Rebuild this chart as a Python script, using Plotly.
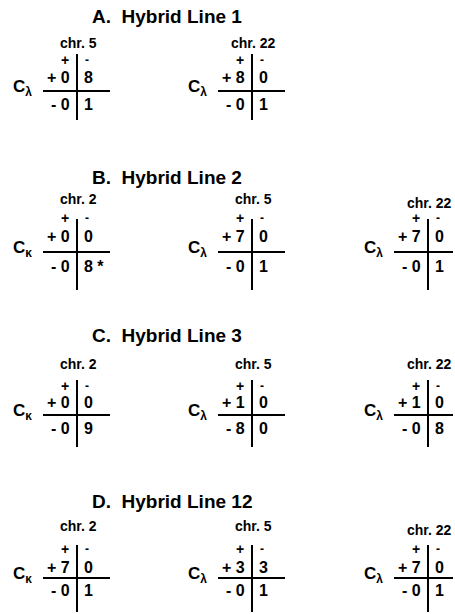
import plotly.graph_objects as go

# ---------------- data ----------------
panel_titles = ["A.\u00a0\u00a0Hybrid Line 1", "B.\u00a0\u00a0Hybrid Line 2",
                "C.\u00a0\u00a0Hybrid Line 3", "D.\u00a0\u00a0Hybrid Line 12"]
panel_chromosomes = [["chr. 5", "chr. 22"],
                     ["chr. 2", "chr. 5", "chr. 22"],
                     ["chr. 2", "chr. 5", "chr. 22"],
                     ["chr. 2", "chr. 5", "chr. 22"]]
panel_chains = [["λ", "λ"],
                ["κ", "λ", "λ"],
                ["κ", "λ", "λ"],
                ["κ", "λ", "λ"]]
# cell order: (+,+), (+,-), (-,+), (-,-)   rows = C gene, columns = chromosome
panel_counts = [[[0, 8, 0, 1], [8, 0, 0, 1]],
                [[0, 0, 0, 8], [7, 0, 0, 1], [7, 0, 0, 1]],
                [[0, 0, 0, 9], [1, 0, 8, 0], [1, 0, 0, 8]],
                [[7, 0, 0, 1], [3, 3, 0, 1], [7, 0, 0, 1]]]
starred_cells = [(1, 0, 3)]  # (panel, table, cell) marked with *
row_signs = ["+", "-"]
col_signs = ["+", "-"]

# ---------------- layout (pixel space) ----------------
W, H = 455, 614
table_x = [77, 252, 428]
title_x = 90
# per-panel vertical positions: title, chr, header, row1, hline, row2, vtop, vbot
panel_y = [
    dict(title=16, chr=43, hdr=60, r1=77, hl=91, r2=104, vt=54, vb=120),
    dict(title=177, chr=199, hdr=218, r1=236, hl=252, r2=266, vt=219, vb=290),
    dict(title=335, chr=364, hdr=386, r1=402, hl=415, r2=428, vt=380, vb=447),
    dict(title=501, chr=526, hdr=549, r1=567, hl=578, r2=590, vt=545, vb=612),
]
FONT = "Liberation Sans, Arial, sans-serif"

fig = go.Figure()
fig.add_trace(go.Scatter(x=[0, W], y=[0, H], mode="markers",
                         marker=dict(opacity=0), hoverinfo="skip", showlegend=False))

ann = []
shapes = []


def txt(x, y, s, size, xanchor="center", bold=False):
    if bold:
        s = "<b>" + s + "</b>"
    ann.append(dict(x=x, y=y, xref="x", yref="y", text=s, showarrow=False,
                    xanchor=xanchor, yanchor="middle",
                    font=dict(family=FONT, size=size, color="black")))


for p, title in enumerate(panel_titles):
    py = panel_y[p]
    txt(title_x, py["title"], title, 19, xanchor="left", bold=True)
    for t, chrom in enumerate(panel_chromosomes[p]):
        v = table_x[t]
        counts = panel_counts[p][t]
        cells = [str(c) for c in counts]
        for (sp, st, sc) in starred_cells:
            if sp == p and st == t:
                cells[sc] = cells[sc] + " *"
        chr_dy = 4 if (t == 2 and p in (1, 3)) else 0
        txt(v + 1, py["chr"] + chr_dy, chrom, 14, bold=True)
        # column header signs
        txt(v - 12, py["hdr"], col_signs[0], 14, bold=True)
        txt(v + 10, py["hdr"], col_signs[1], 12, bold=True)
        # rows
        for r, ry in enumerate([py["r1"], py["r2"]]):
            txt(v - 5, ry, row_signs[r] + " " + cells[2 * r], 16, xanchor="right", bold=True)
            txt(v + 5, ry, cells[2 * r + 1], 16, xanchor="left", bold=True)
        # C gene label
        txt(v - 55, py["hl"] - 3, "C<sub>" + panel_chains[p][t] + "</sub>", 17, bold=True)
        # lines
        shapes.append(dict(type="line", xref="x", yref="y", x0=v - 34, x1=min(v + 33, 453),
                           y0=py["hl"], y1=py["hl"], line=dict(color="black", width=2)))
        shapes.append(dict(type="line", xref="x", yref="y", x0=v, x1=v,
                           y0=py["vt"], y1=py["vb"], line=dict(color="black", width=2)))

fig.update_layout(
    width=W, height=H, margin=dict(l=0, r=0, t=0, b=0),
    paper_bgcolor="white", plot_bgcolor="white",
    xaxis=dict(range=[0, W], visible=False, fixedrange=True),
    yaxis=dict(range=[H, 0], visible=False, fixedrange=True),
    annotations=ann, shapes=shapes, showlegend=False,
)
fig.write_html("out.html", config={"displayModeBar": False},
               post_script="document.body.style.margin='0';"
                           "document.body.style.overflow='hidden';")
